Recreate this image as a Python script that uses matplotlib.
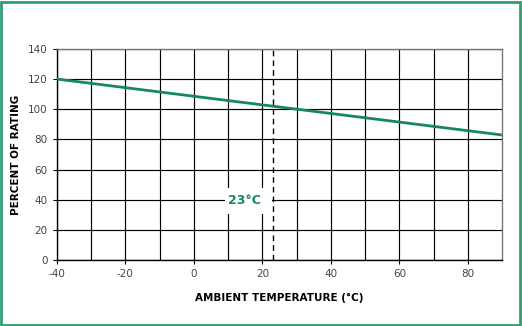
import matplotlib.pyplot as plt
from matplotlib.patches import Rectangle

plt.rcParams['axes.unicode_minus'] = False

# derating curve: percent of rating vs ambient temperature
temp_c = [-40, 90]
percent_rating = [120, 82.9]
ref_temp = 23
x_ticks = [-40, -20, 0, 20, 40, 60, 80]
y_ticks = [0, 20, 40, 60, 80, 100, 120, 140]

green = '#17885a'

fig = plt.figure(figsize=(5.22, 3.26), dpi=100)
ax = fig.add_axes([0.109, 0.2025, 0.853, 0.6475])

ax.set_xlim(-40, 90)
ax.set_ylim(0, 140)
ax.set_xticks(x_ticks)
ax.set_yticks(y_ticks)
ax.set_xticks(range(-30, 90, 20), minor=True)
ax.tick_params(axis='both', which='major', labelsize=7.5, labelcolor='#444444',
               length=3, width=0.8, color='black')
ax.tick_params(axis='both', which='minor', length=0)
ax.grid(True, which='both', color='black', linewidth=0.85)
ax.set_axisbelow(True)
for s in ax.spines.values():
    s.set_color('#777777')
    s.set_linewidth(1.0)
ax.spines['bottom'].set_color('black')
ax.spines['left'].set_color('black')

ax.plot(temp_c, percent_rating, color=green, linewidth=2.0, zorder=4)
ax.axvline(ref_temp, color='black', linestyle=(0, (4, 3)), linewidth=1.0, zorder=5)

# white patch behind the reference label so the grid breaks around it
ax.add_patch(Rectangle((9, 30.5), 13.8, 17.5, facecolor='white', edgecolor='none', zorder=2))
ax.text(14.8, 39.5, '23°C', color=green, fontsize=9, fontweight='bold',
        ha='center', va='center', zorder=3)

ax.set_xlabel('AMBIENT TEMPERATURE (°C)', fontsize=7.5, fontweight='bold', labelpad=10)
ax.set_ylabel('PERCENT OF RATING', fontsize=7.5, fontweight='bold', labelpad=5)

# green frame round the figure
fig.patches.append(Rectangle((0.002, 0.004), 0.994, 0.99, transform=fig.transFigure,
                             fill=False, edgecolor='#2e9e72', linewidth=2.0))

fig.savefig('out.png', dpi=100)
